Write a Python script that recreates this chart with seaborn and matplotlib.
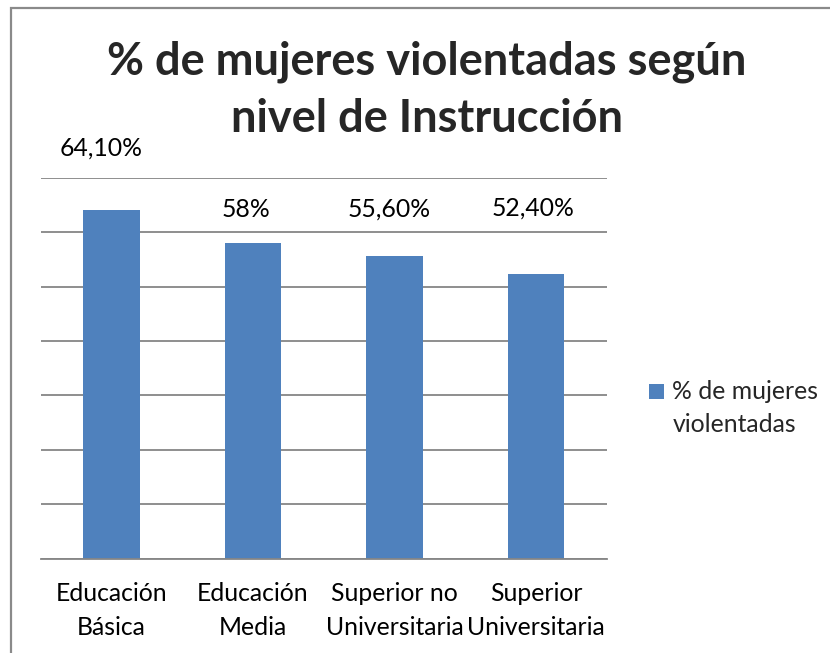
import matplotlib
matplotlib.use("Agg")
import matplotlib.pyplot as plt
import seaborn as sns
import pandas as pd
from matplotlib.patches import Rectangle, Patch

categories = ["Educación\nBásica", "Educación\nMedia", "Superior no\nUniversitaria", "Superior\nUniversitaria"]
values = [64.1, 58.0, 55.6, 52.4]
value_labels = ["64,10%", "58%", "55,60%", "52,40%"]
series_name = "% de mujeres\nviolentadas"
title = "% de mujeres violentadas según\nnivel de Instrucción"

# label placement (layout only): data-unit y positions and x offsets
label_y = [75.5, 64.2, 64.2, 64.5]
label_dx = [-0.07, -0.05, -0.04, -0.02]

sns.set_style("white")
plt.rcParams['font.family'] = ['Lato', 'DejaVu Sans']

W, H = 830, 653
fig = plt.figure(figsize=(W / 100, H / 100), dpi=100)
ax = fig.add_axes([40.7 / W, (H - 558.5) / H, (606.7 - 40.7) / W, (558.5 - 178) / H])

df = pd.DataFrame({"cat": categories, "val": values})
sns.barplot(data=df, x="cat", y="val", color="#4F81BD", width=0.4, ax=ax,
            saturation=1, edgecolor="none")

ax.set_ylim(0, 70)
ax.set_xlim(-0.5, len(categories) - 0.5)
ax.set_yticks(range(0, 71, 10))
ax.set_yticklabels([])
ax.tick_params(axis="y", length=0)
ax.yaxis.grid(True, color="#868686", linewidth=1.3)
ax.set_axisbelow(True)
for s in ["left", "right", "top"]:
    ax.spines[s].set_visible(False)
ax.spines["bottom"].set_color("#868686")
ax.spines["bottom"].set_linewidth(1.3)

fs = 17.8
ax.set_xticks(range(len(categories)))
ax.set_xticklabels(categories, fontsize=fs, color="#000000", linespacing=1.55)
ax.tick_params(axis="x", which="major", length=0, pad=17)
ax.set_xticks([i - 0.5 for i in range(len(categories) + 1)], minor=True)
ax.tick_params(axis="x", which="minor", length=6.5, width=1.3, color="#868686", direction="out")
ax.set_xlabel("")
ax.set_ylabel("")

for i, (yv, lab) in enumerate(zip(label_y, value_labels)):
    ax.text(i + label_dx[i], yv, lab, ha="center", va="center", fontsize=fs, color="#000000")

fig.text(427 / W, 1 - 90 / H, title, ha="center", va="center", fontsize=32.5,
         fontweight="bold", linespacing=1.45)

leg = fig.legend(handles=[Patch(facecolor="#4F81BD", edgecolor="none")], labels=[series_name],
                 loc="upper left", bbox_to_anchor=(639 / W, 1 - 370 / H), frameon=False,
                 fontsize=fs, handlelength=0.6, handleheight=0.6, handletextpad=0.35,
                 borderaxespad=0)
for t in leg.get_texts():
    t.set_linespacing(1.55)
# align the legend swatch with the first text line
p = leg.get_patches()[0]
p.set_y(p.get_y() + 12.5)

fig.patches.append(Rectangle((11 / W, -0.1), 2, 1.1 - 8 / H, transform=fig.transFigure,
                             fill=False, edgecolor="#8a8a8a", linewidth=1.6))

fig.savefig("out.png", dpi=100)
